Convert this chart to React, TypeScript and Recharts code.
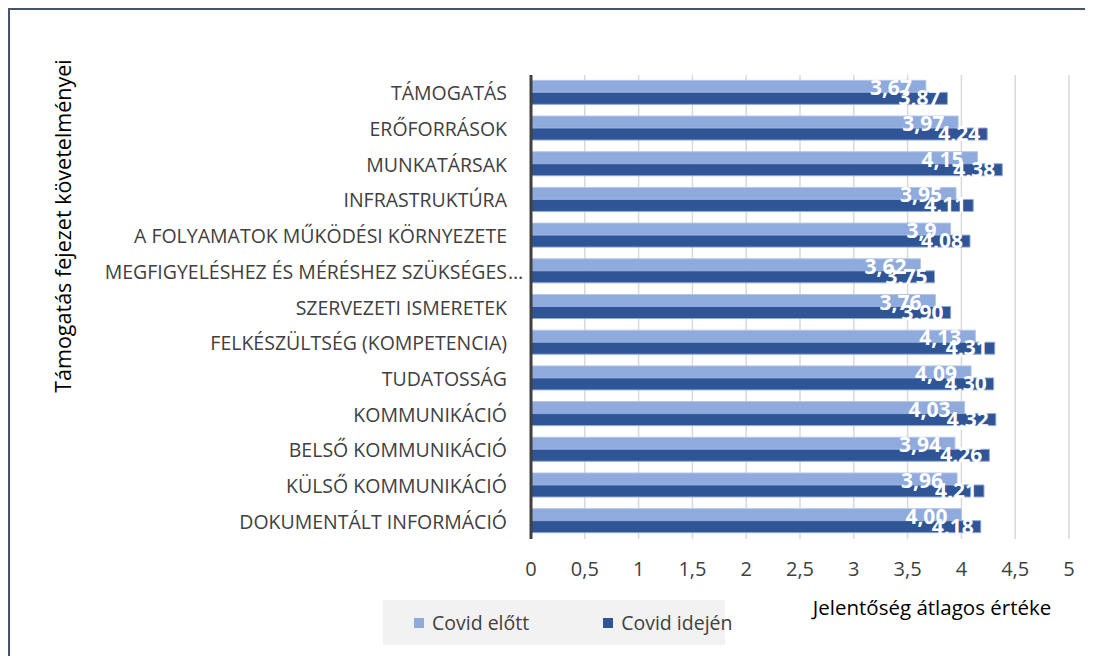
import { BarChart, Bar, XAxis, YAxis, CartesianGrid, Label, LabelList } from 'recharts';

const categories = [
  'TÁMOGATÁS',
  'ERŐFORRÁSOK',
  'MUNKATÁRSAK',
  'INFRASTRUKTÚRA',
  'A FOLYAMATOK MŰKÖDÉSI KÖRNYEZETE',
  'MEGFIGYELÉSHEZ ÉS MÉRÉSHEZ SZÜKSÉGES…',
  'SZERVEZETI ISMERETEK',
  'FELKÉSZÜLTSÉG (KOMPETENCIA)',
  'TUDATOSSÁG',
  'KOMMUNIKÁCIÓ',
  'BELSŐ KOMMUNIKÁCIÓ',
  'KÜLSŐ KOMMUNIKÁCIÓ',
  'DOKUMENTÁLT INFORMÁCIÓ',
];
const before = [3.67, 3.97, 4.15, 3.95, 3.9, 3.62, 3.76, 4.13, 4.09, 4.03, 3.94, 3.96, 4.0];
const beforeLabels = ['3,67', '3,97', '4,15', '3,95', '3,9', '3,62', '3,76', '4,13', '4,09', '4,03', '3,94', '3,96', '4,00'];
const during = [3.87, 4.24, 4.38, 4.11, 4.08, 3.75, 3.9, 4.31, 4.3, 4.32, 4.26, 4.21, 4.18];
const duringLabels = ['3,87', '4,24', '4,38', '4,11', '4,08', '3,75', '3,90', '4,31', '4,30', '4,32', '4,26', '4,21', '4,18'];
const xTicks = [0, 0.5, 1, 1.5, 2, 2.5, 3, 3.5, 4, 4.5, 5];

const data = categories.map((name, i) => ({
  name,
  before: before[i],
  during: during[i],
  beforeLabel: beforeLabels[i],
  duringLabel: duringLabels[i],
}));

const FONT = '"Open Sans", sans-serif';
const LIGHT = '#8faadc';
const DARK = '#2f5597';

const barLabel = (inset: number, dy: number) => (props: any) => {
  const { x, y, width, height, value } = props;
  return (
    <text
      x={x + width - inset}
      y={y + height / 2 + dy}
      textAnchor="end"
      dominantBaseline="central"
      fill="#fff"
      fontFamily={FONT}
      fontSize={21}
      fontWeight={700}
    >
      {value}
    </text>
  );
};

// Excel cuts the long name with an ellipsis that hangs past the right edge
const CategoryTick = (props: any) => {
  const { x, y, payload } = props;
  const label: string = payload.value;
  const cut = label.endsWith('…');
  const common = { y, dominantBaseline: 'central' as const, fill: '#404040', fontFamily: FONT, fontSize: 19.5 };
  return (
    <g>
      <text x={x} textAnchor="end" {...common}>
        {cut ? label.slice(0, -1) : label}
      </text>
      {cut && (
        <text x={x + 1} textAnchor="start" {...common}>
          …
        </text>
      )}
    </g>
  );
};

const swatch = (color: string, left: number) => (
  <span
    style={{ display: 'inline-block', flexShrink: 0, width: 10, height: 10, background: color, marginLeft: left, marginRight: 8 }}
  />
);

export default function App() {
  return (
    <div
      style={{
        position: 'relative',
        width: 1083,
        height: 646,
        borderTop: '2px solid #44546a',
        borderLeft: '2px solid #44546a',
        overflow: 'hidden',
      }}
    >
      <BarChart
        width={1081}
        height={644}
        data={data}
        layout="vertical"
        margin={{ top: 65, right: 22, bottom: 85, left: 0 }}
        barCategoryGap="15%"
        barGap={0}
      >
        <CartesianGrid horizontal={false} stroke="#d9d9d9" strokeWidth={1.5} />
        <XAxis
          type="number"
          domain={[0, 5]}
          ticks={xTicks}
          interval={0}
          axisLine={false}
          tickLine={false}
          tickMargin={17}
          height={30}
          tickFormatter={(v: number) => String(v).replace('.', ',')}
          tick={{ fill: '#404040', fontFamily: FONT, fontSize: 20 }}
        >
          <Label
            content={(p: any) => (
              <text
                x={p.viewBox.x + 401}
                y={p.viewBox.y + 68}
                textAnchor="middle"
                dominantBaseline="central"
                fill="#000"
                fontFamily={FONT}
                fontSize={20.5}
              >
                Jelentőség átlagos értéke
              </text>
            )}
          />
        </XAxis>
        <YAxis
          type="category"
          dataKey="name"
          width={521}
          interval={0}
          axisLine={{ stroke: '#404040', strokeWidth: 3 }}
          tickLine={false}
          tickMargin={18}
          tick={<CategoryTick />}
        >
          <Label
            content={() => (
              <text
                x={52}
                y={216}
                textAnchor="middle"
                dominantBaseline="central"
                fill="#000"
                fontFamily={FONT}
                fontSize={21.5}
                transform="rotate(-90 52 216)"
              >
                Támogatás fejezet követelményei
              </text>
            )}
          />
        </YAxis>
        <Bar dataKey="before" name="Covid előtt" fill={LIGHT} stroke="#b4c7e7" strokeWidth={1} isAnimationActive={false}>
          <LabelList dataKey="beforeLabel" content={barLabel(14, 1)} />
        </Bar>
        <Bar dataKey="during" name="Covid idején" fill={DARK} stroke="#8faadc" strokeWidth={1} isAnimationActive={false}>
          <LabelList dataKey="duringLabel" content={barLabel(7, -1)} />
        </Bar>
      </BarChart>
      <div
        style={{
          position: 'absolute',
          left: 373,
          top: 590,
          background: '#f2f2f2',
          width: 342,
          height: 45,
          display: 'flex',
          alignItems: 'center',
          whiteSpace: 'nowrap',
          fontFamily: FONT,
          fontSize: 19.5,
          color: '#404040',
        }}
      >
        {swatch(LIGHT, 31)}
        <span>Covid előtt</span>
        {swatch(DARK, 74)}
        <span>Covid idején</span>
      </div>
    </div>
  );
}
